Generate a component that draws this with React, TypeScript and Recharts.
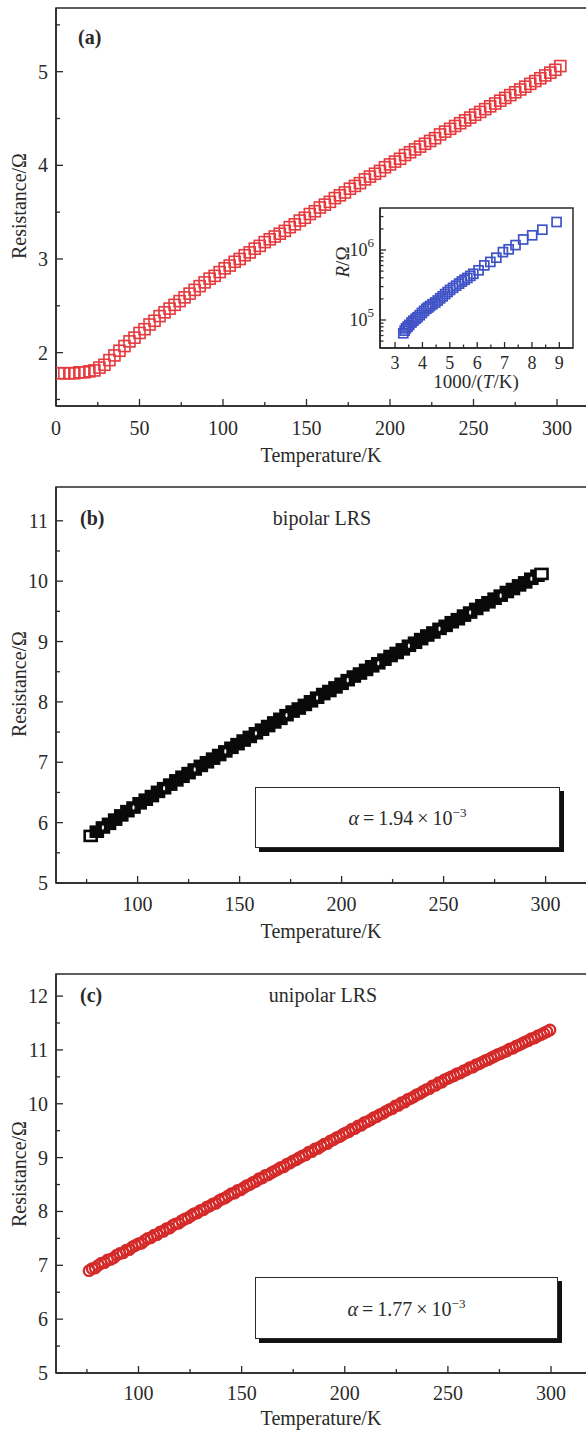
import React from 'react';
import { ScatterChart, Scatter, XAxis, YAxis, ReferenceArea } from 'recharts';

const FONT = '"Liberation Serif", "Times New Roman", Times, serif';
const INK = '#2a2a2a';

// ---------- Panel (a): main curve ----------
const tempA = [2, 5, 8, 11, 14, 17, 20, 23, 26, 29, 32, 35, 38, 41, 44, 47, 50, 53, 56, 59, 62, 65, 68, 71, 74, 77, 80, 83, 86, 89, 92, 95, 98, 101, 104, 107, 110, 113, 116, 119, 122, 125, 128, 131, 134, 137, 140, 143, 146, 149, 152, 155, 158, 161, 164, 167, 170, 173, 176, 179, 182, 185, 188, 191, 194, 197, 200, 203, 206, 209, 212, 215, 218, 221, 224, 227, 230, 233, 236, 239, 242, 245, 248, 251, 254, 257, 260, 263, 266, 269, 272, 275, 278, 281, 284, 287, 290, 293, 296, 299, 302];
const resA = [1.78, 1.78, 1.78, 1.78, 1.79, 1.79, 1.80, 1.81, 1.84, 1.87, 1.92, 1.97, 2.02, 2.07, 2.12, 2.16, 2.21, 2.25, 2.30, 2.34, 2.39, 2.43, 2.47, 2.51, 2.55, 2.59, 2.63, 2.67, 2.71, 2.75, 2.79, 2.82, 2.86, 2.90, 2.93, 2.97, 3.00, 3.04, 3.07, 3.11, 3.14, 3.18, 3.21, 3.24, 3.27, 3.30, 3.34, 3.37, 3.41, 3.44, 3.48, 3.51, 3.55, 3.58, 3.61, 3.65, 3.68, 3.71, 3.75, 3.78, 3.81, 3.85, 3.88, 3.91, 3.94, 3.98, 4.01, 4.04, 4.07, 4.11, 4.14, 4.17, 4.20, 4.23, 4.26, 4.29, 4.33, 4.36, 4.39, 4.42, 4.45, 4.48, 4.51, 4.54, 4.57, 4.60, 4.63, 4.66, 4.69, 4.72, 4.75, 4.78, 4.81, 4.84, 4.87, 4.90, 4.93, 4.96, 4.99, 5.02, 5.06];
const xTicksA = [0, 25, 50, 75, 100, 125, 150, 175, 200, 225, 250, 275, 300];
const xMajorA = [0, 50, 100, 150, 200, 250, 300];
const yTicksA = [1.5, 2, 2.5, 3, 3.5, 4, 4.5, 5, 5.5];
const yMajorA = [2, 3, 4, 5];

// ---------- Panel (a): inset ----------
const invTInset = [3.30, 3.35, 3.40, 3.46, 3.52, 3.60, 3.67, 3.75, 3.82, 3.90, 3.98, 4.06, 4.14, 4.21, 4.28, 4.37, 4.47, 4.56, 4.65, 4.74, 4.83, 4.92, 5.01, 5.12, 5.23, 5.34, 5.44, 5.54, 5.64, 5.75, 5.86, 6.05, 6.26, 6.48, 6.70, 6.94, 7.15, 7.40, 7.68, 8.01, 8.38, 8.90];
const resInset = [64600, 70500, 75900, 80500, 85100, 92000, 97700, 104000, 109600, 117000, 125900, 135000, 144500, 151000, 158500, 168000, 177800, 190000, 204200, 218000, 234400, 251000, 269200, 288000, 309000, 331000, 354800, 376000, 398100, 427000, 457100, 512900, 602600, 676100, 776200, 933300, 1023000, 1175000, 1413000, 1622000, 1950000, 2512000];
const xTicksInset = [3, 3.5, 4, 4.5, 5, 5.5, 6, 6.5, 7, 7.5, 8, 8.5, 9];
const xMajorInset = [3, 4, 5, 6, 7, 8, 9];
const yTicksInset = [50000, 60000, 70000, 80000, 90000, 100000, 200000, 300000, 400000, 500000, 600000, 700000, 800000, 900000, 1000000, 2000000, 3000000];
const yMajorInset = [100000, 1000000];

// ---------- Panel (b) ----------
const tempB = [77, 80, 83, 86, 89, 92, 95, 98, 101, 104, 107, 110, 113, 116, 119, 122, 125, 128, 131, 134, 137, 140, 143, 146, 149, 152, 155, 158, 161, 164, 167, 170, 173, 176, 179, 182, 185, 188, 191, 194, 197, 200, 203, 206, 209, 212, 215, 218, 221, 224, 227, 230, 233, 236, 239, 242, 245, 248, 251, 254, 257, 260, 263, 266, 269, 272, 275, 278, 281, 284, 287, 290, 293, 296, 298];
const resB = [5.78, 5.85, 5.92, 5.98, 6.05, 6.12, 6.19, 6.25, 6.32, 6.38, 6.44, 6.51, 6.57, 6.63, 6.70, 6.76, 6.82, 6.88, 6.94, 7.00, 7.06, 7.12, 7.18, 7.24, 7.30, 7.36, 7.42, 7.48, 7.54, 7.60, 7.66, 7.72, 7.78, 7.84, 7.89, 7.95, 8.01, 8.07, 8.13, 8.18, 8.24, 8.30, 8.36, 8.42, 8.47, 8.53, 8.59, 8.64, 8.70, 8.76, 8.81, 8.87, 8.93, 8.98, 9.04, 9.10, 9.15, 9.21, 9.26, 9.32, 9.37, 9.43, 9.48, 9.54, 9.60, 9.65, 9.71, 9.76, 9.82, 9.87, 9.93, 9.98, 10.04, 10.09, 10.12];
const xTicksBC = [75, 100, 125, 150, 175, 200, 225, 250, 275, 300, 325];
const xMajorBC = [100, 150, 200, 250, 300];
const yTicksB = [5, 5.5, 6, 6.5, 7, 7.5, 8, 8.5, 9, 9.5, 10, 10.5, 11];
const yMajorB = [5, 6, 7, 8, 9, 10, 11];

// ---------- Panel (c) ----------
const tempC = [76, 77.5, 79, 80.5, 82, 83.5, 85, 86.5, 88, 89.5, 91, 92.5, 94, 95.5, 97, 98.5, 100, 101.5, 103, 104.5, 106, 107.5, 109, 110.5, 112, 113.5, 115, 116.5, 118, 119.5, 121, 122.5, 124, 125.5, 127, 128.5, 130, 131.5, 133, 134.5, 136, 137.5, 139, 140.5, 142, 143.5, 145, 146.5, 148, 149.5, 151, 152.5, 154, 155.5, 157, 158.5, 160, 161.5, 163, 164.5, 166, 167.5, 169, 170.5, 172, 173.5, 175, 176.5, 178, 179.5, 181, 182.5, 184, 185.5, 187, 188.5, 190, 191.5, 193, 194.5, 196, 197.5, 199, 200.5, 202, 203.5, 205, 206.5, 208, 209.5, 211, 212.5, 214, 215.5, 217, 218.5, 220, 221.5, 223, 224.5, 226, 227.5, 229, 230.5, 232, 233.5, 235, 236.5, 238, 239.5, 241, 242.5, 244, 245.5, 247, 248.5, 250, 251.5, 253, 254.5, 256, 257.5, 259, 260.5, 262, 263.5, 265, 266.5, 268, 269.5, 271, 272.5, 274, 275.5, 277, 278.5, 280, 281.5, 283, 284.5, 286, 287.5, 289, 290.5, 292, 293.5, 295, 296.5, 298, 299.5];
const resC = [6.90, 6.94, 6.95, 7.00, 7.04, 7.05, 7.10, 7.11, 7.14, 7.19, 7.22, 7.23, 7.28, 7.29, 7.34, 7.37, 7.40, 7.41, 7.46, 7.50, 7.51, 7.56, 7.57, 7.62, 7.63, 7.68, 7.69, 7.74, 7.77, 7.78, 7.83, 7.86, 7.88, 7.92, 7.96, 7.97, 8.02, 8.03, 8.08, 8.10, 8.14, 8.15, 8.20, 8.23, 8.25, 8.29, 8.33, 8.34, 8.39, 8.40, 8.44, 8.48, 8.50, 8.54, 8.56, 8.61, 8.62, 8.67, 8.68, 8.72, 8.75, 8.78, 8.82, 8.83, 8.88, 8.90, 8.94, 8.96, 9.00, 9.03, 9.05, 9.10, 9.11, 9.16, 9.17, 9.21, 9.25, 9.26, 9.31, 9.33, 9.37, 9.39, 9.43, 9.46, 9.48, 9.53, 9.54, 9.59, 9.60, 9.65, 9.67, 9.70, 9.74, 9.76, 9.80, 9.82, 9.86, 9.89, 9.91, 9.96, 9.97, 10.02, 10.03, 10.08, 10.10, 10.13, 10.17, 10.19, 10.23, 10.26, 10.28, 10.33, 10.34, 10.39, 10.40, 10.45, 10.47, 10.50, 10.52, 10.56, 10.57, 10.61, 10.63, 10.67, 10.68, 10.72, 10.74, 10.77, 10.80, 10.82, 10.85, 10.88, 10.91, 10.93, 10.96, 10.98, 11.02, 11.03, 11.07, 11.09, 11.12, 11.15, 11.17, 11.21, 11.22, 11.26, 11.28, 11.31, 11.34, 11.37];
const yTicksC = [5, 5.5, 6, 6.5, 7, 7.5, 8, 8.5, 9, 9.5, 10, 10.5, 11, 11.5, 12];
const yMajorC = [5, 6, 7, 8, 9, 10, 11, 12];

const tableA = tempA.map((t, i) => ({ t, r: resA[i] }));
const tableInset = invTInset.map((t, i) => ({ t, r: resInset[i] }));
const tableB = tempB.map((t, i) => ({ t, r: resB[i] }));
const tableBSpecks = tableB.filter((_, i) => i % 5 === 2);
const tableC = tempC.map((t, i) => ({ t, r: resC[i] }));

const isIn = (arr: number[], v: number) => arr.some((m) => Math.abs(m - v) <= 1e-9 * Math.max(1, Math.abs(m)));

function AxisTick(p: any) {
  const { x, y, payload, majors, side, fs = 20, len = 7, minorLen = 4, gap = 8, fmt } = p;
  const v = payload.value;
  const major = isIn(majors, v);
  const L = major ? len : minorLen;
  if (side === 'left') {
    return (
      <g>
        <line x1={x} x2={x + L} y1={y} y2={y} stroke={INK} strokeWidth={1.3} />
        {major && (
          <text x={x - gap} y={y} textAnchor="end" dominantBaseline="central" fontSize={fs} fontFamily={FONT} fill={INK}>
            {fmt ? fmt(v) : v}
          </text>
        )}
      </g>
    );
  }
  return (
    <g>
      <line x1={x} x2={x} y1={y} y2={y - L} stroke={INK} strokeWidth={1.3} />
      {major && (
        <text x={x} y={y + gap} textAnchor="middle" dominantBaseline="central" fontSize={fs} fontFamily={FONT} fill={INK}>
          {v}
        </text>
      )}
    </g>
  );
}

const powerLabel = (v: number) => (
  <>
    10<tspan dy={-8} fontSize={13}>{Math.round(Math.log10(v))}</tspan>
  </>
);

const squareA = (p: any) => <rect x={p.cx - 5.5} y={p.cy - 5.5} width={11} height={11} fill="none" stroke="#e5393d" strokeWidth={1.6} />;
const squareInset = (p: any) => <rect x={p.cx - 4.5} y={p.cy - 4.5} width={9} height={9} fill="none" stroke="#3f52c6" strokeWidth={1.7} />;
const squareB = (p: any) => {
  const t = p.payload ? p.payload.t : 0;
  const hollow = t === tempB[0] || t === tempB[tempB.length - 1];
  return <rect x={p.cx - 6} y={p.cy - 5} width={12} height={10} fill={hollow ? '#fff' : '#0a0a0a'} stroke="#0a0a0a" strokeWidth={2.6} />;
};
const speckB = (p: any) => <ellipse cx={p.cx} cy={p.cy} rx={1.1} ry={2.3} fill="#f2f2f2" />;
const circleC = (p: any) => <circle cx={p.cx} cy={p.cy} r={5.2} fill="none" stroke="#d42a2a" strokeWidth={2.4} />;

const axisLine = { stroke: INK, strokeWidth: 1.5 };

export default function App() {
  return (
    <div style={{ position: 'absolute', left: 0, top: 0, width: 586, height: 1430, overflow: 'hidden', background: '#fff' }}>
      {/* Panel (a) */}
      <div style={{ position: 'absolute', left: 0, top: 0 }}>
        <ScatterChart width={592} height={460} margin={{ top: 8, right: 1.6, left: 0, bottom: 0 }}>
          <XAxis type="number" dataKey="t" domain={[0, 320]} allowDataOverflow ticks={xTicksA} interval={0} height={54} tickSize={0} tickMargin={0} tickLine={false} axisLine={axisLine} tick={<AxisTick side="bottom" majors={xMajorA} gap={22} />} />
          <YAxis type="number" dataKey="r" domain={[1.43, 5.68]} allowDataOverflow ticks={yTicksA} interval={0} width={56} tickSize={0} tickMargin={0} tickLine={false} axisLine={axisLine} tick={<AxisTick side="left" majors={yMajorA} />} />
          <ReferenceArea x1={0} x2={320} y1={1.43} y2={5.68} fill="none" stroke={INK} strokeWidth={1.5} ifOverflow="visible" />
          <Scatter data={tableA} shape={squareA} isAnimationActive={false} />
        </ScatterChart>
      </div>

      {/* Inset */}
      <div style={{ position: 'absolute', left: 330, top: 190 }}>
        <ScatterChart width={260} height={210} margin={{ top: 18, right: 17, left: 0, bottom: 0 }}>
          <XAxis type="number" dataKey="t" domain={[2.45, 9.5]} allowDataOverflow ticks={xTicksInset} interval={0} height={52} tickSize={0} tickMargin={0} tickLine={false} axisLine={axisLine} tick={<AxisTick side="bottom" majors={xMajorInset} gap={15} fs={18} len={6} minorLen={3.5} />} />
          <YAxis type="number" dataKey="r" scale="log" domain={[39811, 3981071]} allowDataOverflow ticks={yTicksInset} interval={0} width={50} tickSize={0} tickMargin={0} tickLine={false} axisLine={axisLine} tick={<AxisTick side="left" majors={yMajorInset} fs={18} len={6} minorLen={3.5} gap={6} fmt={powerLabel} />} />
          <ReferenceArea x1={2.45} x2={9.5} y1={39811} y2={3981071} fill="none" stroke={INK} strokeWidth={1.5} ifOverflow="visible" />
          <Scatter data={tableInset} shape={squareInset} isAnimationActive={false} />
        </ScatterChart>
      </div>

      {/* Panel (b) */}
      <div style={{ position: 'absolute', left: 0, top: 470 }}>
        <ScatterChart width={610} height={467} margin={{ top: 17, right: 3.2, left: 0, bottom: 0 }}>
          <XAxis type="number" dataKey="t" domain={[60, 330]} allowDataOverflow ticks={xTicksBC} interval={0} height={54} tickSize={0} tickMargin={0} tickLine={false} axisLine={axisLine} tick={<AxisTick side="bottom" majors={xMajorBC} gap={21} />} />
          <YAxis type="number" dataKey="r" domain={[5, 11.56]} allowDataOverflow ticks={yTicksB} interval={0} width={56} tickSize={0} tickMargin={0} tickLine={false} axisLine={axisLine} tick={<AxisTick side="left" majors={yMajorB} />} />
          <ReferenceArea x1={60} x2={330} y1={5} y2={11.56} fill="none" stroke={INK} strokeWidth={1.5} ifOverflow="visible" />
          <Scatter data={tableB} shape={squareB} isAnimationActive={false} />
          <Scatter data={tableBSpecks} shape={speckB} isAnimationActive={false} />
        </ScatterChart>
      </div>

      {/* Panel (c) */}
      <div style={{ position: 'absolute', left: 0, top: 955 }}>
        <ScatterChart width={616} height={472} margin={{ top: 19, right: 3.1, left: 0, bottom: 0 }}>
          <XAxis type="number" dataKey="t" domain={[60, 330]} allowDataOverflow ticks={xTicksBC} interval={0} height={54} tickSize={0} tickMargin={0} tickLine={false} axisLine={axisLine} tick={<AxisTick side="bottom" majors={xMajorBC} gap={20} />} />
          <YAxis type="number" dataKey="r" domain={[5, 12.41]} allowDataOverflow ticks={yTicksC} interval={0} width={56} tickSize={0} tickMargin={0} tickLine={false} axisLine={axisLine} tick={<AxisTick side="left" majors={yMajorC} />} />
          <ReferenceArea x1={60} x2={330} y1={5} y2={12.41} fill="none" stroke={INK} strokeWidth={1.5} ifOverflow="visible" />
          <Scatter data={tableC} shape={circleC} isAnimationActive={false} />
        </ScatterChart>
      </div>

      {/* alpha boxes */}
      <div style={{ position: 'absolute', left: 255, top: 787, width: 303, height: 59, border: `1.3px solid ${INK}`, boxShadow: '4px 4px 0 #111', background: '#fff', display: 'flex', alignItems: 'center', justifyContent: 'center', fontFamily: FONT, fontSize: 20, color: INK }}>
        <span><i>α</i>&thinsp;=&thinsp;1.94&thinsp;×&thinsp;10<sup style={{ fontSize: 13 }}>−3</sup></span>
      </div>
      <div style={{ position: 'absolute', left: 255, top: 1277, width: 301, height: 60, border: `1.3px solid ${INK}`, boxShadow: '4px 4px 0 #111', background: '#fff', display: 'flex', alignItems: 'center', justifyContent: 'center', fontFamily: FONT, fontSize: 20, color: INK }}>
        <span><i>α</i>&thinsp;=&thinsp;1.77&thinsp;×&thinsp;10<sup style={{ fontSize: 13 }}>−3</sup></span>
      </div>

      {/* text annotations */}
      <svg width={586} height={1430} style={{ position: 'absolute', left: 0, top: 0, pointerEvents: 'none' }} fontFamily={FONT} fill={INK}>
        <text x={78} y={37} fontSize={20} fontWeight="bold" dominantBaseline="central">(a)</text>
        <text transform="translate(19,206) rotate(-90)" fontSize={20} textAnchor="middle" dominantBaseline="central">Resistance/Ω</text>
        <text x={321} y={455} fontSize={20} textAnchor="middle" dominantBaseline="central">Temperature/K</text>
        <text transform="translate(342,262) rotate(-90)" fontSize={19} textAnchor="middle" dominantBaseline="central"><tspan fontStyle="italic">R</tspan>/Ω</text>
        <text x={476} y={381} fontSize={19} textAnchor="middle" dominantBaseline="central">1000/(<tspan fontStyle="italic">T</tspan>/K)</text>

        <text x={80} y={518} fontSize={20} fontWeight="bold" dominantBaseline="central">(b)</text>
        <text x={322} y={518} fontSize={20} textAnchor="middle" dominantBaseline="central">bipolar LRS</text>
        <text transform="translate(19,684) rotate(-90)" fontSize={20} textAnchor="middle" dominantBaseline="central">Resistance/Ω</text>
        <text x={321} y={931} fontSize={20} textAnchor="middle" dominantBaseline="central">Temperature/K</text>

        <text x={80} y={995} fontSize={20} fontWeight="bold" dominantBaseline="central">(c)</text>
        <text x={323} y={995} fontSize={20} textAnchor="middle" dominantBaseline="central">unipolar LRS</text>
        <text transform="translate(19,1174) rotate(-90)" fontSize={20} textAnchor="middle" dominantBaseline="central">Resistance/Ω</text>
        <text x={321} y={1418} fontSize={20} textAnchor="middle" dominantBaseline="central">Temperature/K</text>
      </svg>
    </div>
  );
}
